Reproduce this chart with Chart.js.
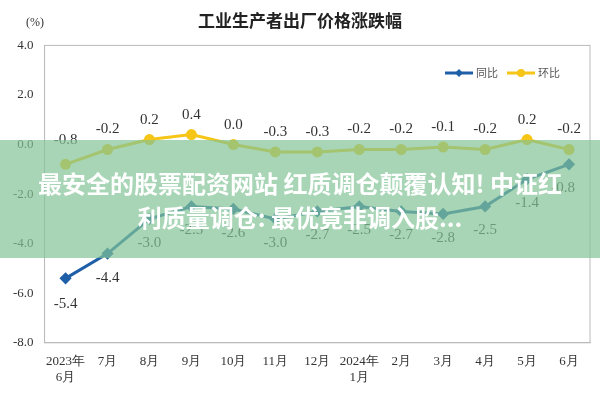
<!DOCTYPE html>
<html><head><meta charset="utf-8">
<script src="https://cdn.jsdelivr.net/npm/chart.js@4/dist/chart.umd.min.js"></script>
<style>
body{margin:0;background:#fff;font-family:"Noto Sans CJK SC";}
#w{position:relative;width:600px;height:400px;}
#banner{position:absolute;left:0;top:140px;width:600px;height:118px;background:rgba(130,195,150,0.7);color:#fff;font-weight:bold;font-size:24px;line-height:34px;text-align:center;padding-top:26px;box-sizing:border-box;font-family:"Noto Sans CJK SC";white-space:nowrap;}
</style></head><body>
<div id="w"><canvas id="c" width="600" height="400"></canvas>
<div id="banner">最安全的股票配资网站 红质调仓颠覆认知! 中证红<br>利质量调仓: 最优竟非调入股...</div></div>
<script>
const categories=[["2023年","6月"],"7月","8月","9月","10月","11月","12月",["2024年","1月"],"2月","3月","4月","5月","6月"];
const yoy=[-5.4,-4.4,-3.0,-2.5,-2.6,-3.0,-2.7,-2.5,-2.7,-2.8,-2.5,-1.4,-0.8];
const mom=[-0.8,-0.2,0.2,0.4,0.0,-0.3,-0.3,-0.2,-0.2,-0.1,-0.2,0.2,-0.2];
const labelPlugin={id:'lbl',afterDatasetsDraw(ch){
 const ctx=ch.ctx,a=ch.chartArea;ctx.save();
 ctx.strokeStyle='#bbb';ctx.lineWidth=1;ctx.strokeRect(a.left,a.top,a.right-a.left,a.bottom-a.top);
 ctx.font='15px "Liberation Serif"';ctx.fillStyle='#333';ctx.textAlign='center';
 ch.data.datasets.forEach((ds,i)=>{ch.getDatasetMeta(i).data.forEach((p,j)=>{
  const t=ds.data[j].toFixed(1);
  if(i===1){ctx.fillText(t,p.x,j===0?p.y-20:p.y-16);}
  else{ctx.fillText(t,p.x+(j===12?-6:0),p.y+(j===0?30:28));}
 });});
 ctx.font='12px "Liberation Serif"';ctx.textAlign='left';ctx.fillText('(%)',26,26);
 const lx=445,ly=73;ctx.lineWidth=3;
 ctx.strokeStyle='#1f5fa8';ctx.beginPath();ctx.moveTo(lx,ly);ctx.lineTo(lx+28,ly);ctx.stroke();
 ctx.fillStyle='#1f5fa8';ctx.beginPath();ctx.moveTo(lx+14,ly-4);ctx.lineTo(lx+18,ly);ctx.lineTo(lx+14,ly+4);ctx.lineTo(lx+10,ly);ctx.fill();
 ctx.strokeStyle='#f5c518';ctx.beginPath();ctx.moveTo(lx+62,ly);ctx.lineTo(lx+90,ly);ctx.stroke();
 ctx.fillStyle='#f5c518';ctx.beginPath();ctx.arc(lx+76,ly,4,0,7);ctx.fill();
 ctx.fillStyle='#555';ctx.font='11px "Noto Sans CJK SC"';ctx.textBaseline='middle';
 ctx.fillText('同比',lx+31,ly);ctx.fillText('环比',lx+93,ly);
 ctx.restore();}};
new Chart(document.getElementById('c'),{type:'line',
 data:{labels:categories,datasets:[
  {label:'同比',data:yoy,borderColor:'#1f5fa8',backgroundColor:'#1f5fa8',borderWidth:3,pointStyle:'rectRot',pointRadius:4,tension:0},
  {label:'环比',data:mom,borderColor:'#f5c518',backgroundColor:'#f5c518',borderWidth:3,pointRadius:4,tension:0}]},
 plugins:[labelPlugin],
 options:{responsive:false,animation:false,
  layout:{padding:{left:10,right:10,top:0,bottom:12}},
  plugins:{title:{display:true,text:'工业生产者出厂价格涨跌幅',font:{size:17,family:'"Noto Sans CJK SC"'},color:'#222',padding:{top:10,bottom:15}},
   legend:{display:false},tooltip:{enabled:false}},
  scales:{y:{min:-8,max:4,ticks:{stepSize:2,callback:v=>v.toFixed(1),font:{size:13,family:'"Liberation Serif"'},color:'#333'},grid:{display:false},border:{color:'#bbb'}},
   x:{offset:true,ticks:{font:{size:13,family:'"Liberation Serif"'},color:'#333',maxRotation:0,autoSkip:false},grid:{display:false},border:{color:'#bbb'}}}}});
</script></body></html>
